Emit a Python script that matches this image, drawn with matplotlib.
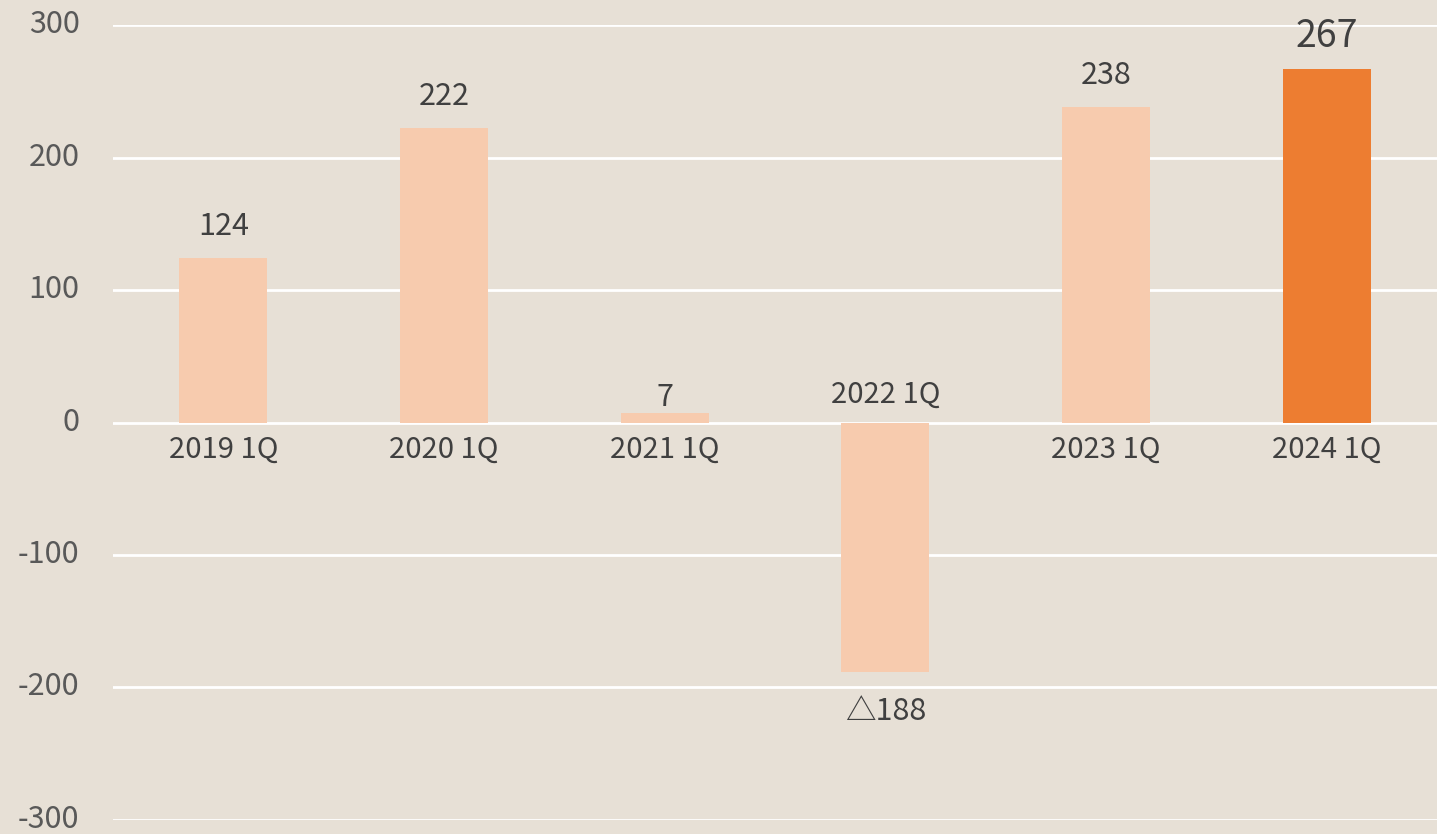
import matplotlib
matplotlib.use("Agg")
import matplotlib.pyplot as plt
import matplotlib.transforms as mtransforms

plt.rcParams['font.family'] = ['Noto Sans CJK JP', 'DejaVu Sans']

categories = ['2019 1Q', '2020 1Q', '2021 1Q', '2022 1Q', '2023 1Q', '2024 1Q']
values = [124, 222, 7, -188, 238, 267]
value_labels = ['124', '222', '7', '△188', '238', '267']
yticks = [-300, -200, -100, 0, 100, 200, 300]

bg = '#E7E0D6'
light = '#F7CBAE'
dark = '#ED7D31'

fig = plt.figure(figsize=(14.37, 8.34), dpi=100)
fig.patch.set_facecolor(bg)
ax = fig.add_axes([0.0786, 0.0168, 0.9214, 0.9532])
ax.set_facecolor(bg)

colors = [light] * (len(values) - 1) + [dark]
x = list(range(len(categories)))
ax.bar(x, values, width=0.40, color=colors, zorder=3)

ax.set_xlim(-0.5, len(categories) - 0.5)
ax.set_ylim(-300, 300)
ax.set_yticks(yticks)
ax.set_yticklabels([str(t) for t in yticks], fontsize=22, color='#595959')
ax.set_xticks([])
ax.tick_params(axis='y', length=0, pad=24)
# nudge tick labels a few pixels up, like the original
shift = mtransforms.ScaledTranslation(0, 4 / 100, fig.dpi_scale_trans)
for lab in ax.get_yticklabels():
    lab.set_transform(lab.get_transform() + shift)
for s in ax.spines.values():
    s.set_visible(False)
for t in yticks:
    ax.axhline(t, color='white', lw=2, zorder=1)

# value labels (offset in points)
for i, (v, lab) in enumerate(zip(values, value_labels)):
    big = i == len(values) - 1
    fs = 27 if big else 22
    if v >= 0:
        off = 11 if v < 20 else 23
        ax.annotate(lab, (i, v), xytext=(0, off), textcoords='offset points',
                    ha='center', va='center', fontsize=fs, color='#404040')
    else:
        ax.annotate(lab, (i, v), xytext=(0, -29), textcoords='offset points',
                    ha='center', va='center', fontsize=fs, color='#404040')

# category labels next to the zero line
for i, (v, cat) in enumerate(zip(values, categories)):
    off = -20 if v >= 0 else 20
    ax.annotate(cat, (i, 0), xytext=(0, off), textcoords='offset points',
                ha='center', va='center', fontsize=21, color='#404040')

fig.savefig('out.png', dpi=100, facecolor=bg)
